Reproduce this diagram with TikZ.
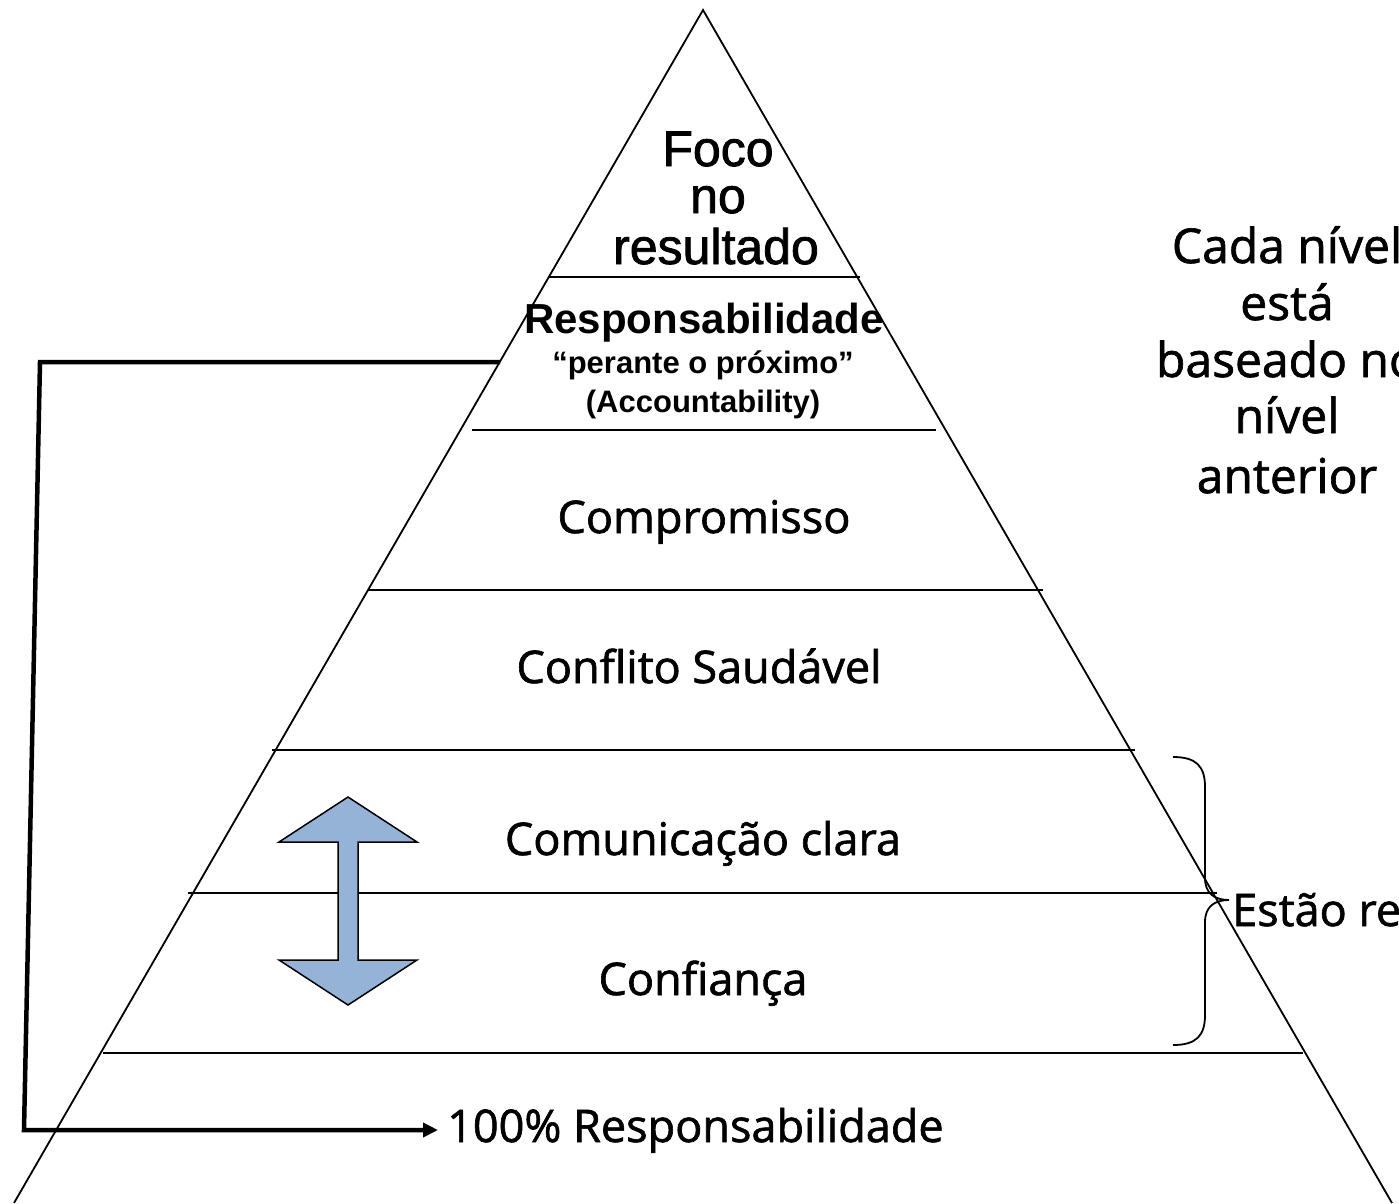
\documentclass[tikz,border=0pt]{standalone}
\usepackage{fontspec}
\usetikzlibrary{arrows.meta}
\newfontfamily\arialf{Liberation Sans}
\newfontfamily\arialmed[FakeBold=1.6]{Liberation Sans}
\newfontfamily\sansf[FakeBold=1.4]{Open Sans}
\definecolor{arrowblue}{RGB}{149,179,215}
\begin{document}
\begin{tikzpicture}[x=1pt,y=-1pt,
  edge/.style={line width=1.8pt,black},
  lvl/.style={line width=1.8pt,black},
  link/.style={line width=4.5pt,black,line join=miter},
  lbl/.style={anchor=base,inner sep=0pt,font=\sansf\fontsize{45}{54}\selectfont},
  side/.style={anchor=base,inner sep=0pt,font=\sansf\fontsize{48}{57}\selectfont},
  toplbl/.style={anchor=base,inner sep=0pt,font=\arialmed\fontsize{50}{50}\selectfont},
  resp/.style={anchor=base,inner sep=0pt,font=\arialf\bfseries\fontsize{42}{42}\selectfont},
  respsub/.style={anchor=base,inner sep=0pt,font=\arialf\bfseries\fontsize{31}{31}\selectfont},
  dblarrow/.style={fill=arrowblue,draw=black,line width=1.5pt,line join=miter}]
\useasboundingbox (0,0) rectangle (1399,1203);
\fill[white] (0,0) rectangle (1399,1203);

% pyramid outline
\coordinate (apex) at (703,10);
\coordinate (bl) at (14,1203);
\coordinate (br) at (1392,1203);
\draw[edge] (bl) -- (apex) -- (br);

% level lines
\draw[lvl] (548,277) -- (860,277);
\draw[lvl] (472,430) -- (936,430);
\draw[lvl] (368,590) -- (1043,590);
\draw[lvl] (272,750) -- (1135,750);
\draw[lvl] (188,893) -- (1217,893);
\draw[lvl] (103,1053) -- (1303,1053);

% labels in the pyramid
\node[toplbl] (foco1) at (718,166) {Foco};
\node[toplbl] (foco2) at (718,213) {no};
\node[toplbl] (foco3) at (716,264) {resultado};
\node[resp] (resp1) at (704,333) {Responsabilidade};
\node[respsub] (resp2) at (703,373) {“perante o próximo”};
\node[respsub] (resp3) at (703,412) {(Accountability)};
\node[lbl] (comp) at (704,533) {Compromisso};
\node[lbl] (confl) at (699,683) {Conflito Saudável};
\node[lbl] (comun) at (703,855) {Comunicação clara};
\node[lbl] (confi) at (703,995) {Confiança};
\node[lbl,anchor=base west] (hundred) at (447,1142) {100\% Responsabilidade};

% connector from the accountability level to the base
\coordinate (cstart) at (500,362);
\coordinate (ctl) at (40,362);
\coordinate (cbl) at (24,1130);
\coordinate (cend) at (438,1130);
\draw[link,-{Triangle[length=15pt,width=14pt]}] (cstart) -- (ctl) -- (cbl) -- (cend);

% double arrow
\draw[dblarrow] (348,797) -- (417,842) -- (358,842) -- (358,960) -- (417,960)
  -- (348,1005) -- (279,960) -- (338,960) -- (338,842) -- (279,842) -- cycle;

% brace
\coordinate (btop) at (1173,757);
\coordinate (bbot) at (1173,1045);
\coordinate (btip) at (1229,900);
\draw[line width=1.8pt] (btop) .. controls (1196,757) and (1205,766) .. (1205,787)
  -- (1205,878) .. controls (1205,893) and (1214,900) .. (btip)
  .. controls (1214,900) and (1205,907) .. (1205,922)
  -- (1205,1015) .. controls (1205,1036) and (1196,1045) .. (bbot);

% side texts
\node[side] (cada1) at (1287,263) {Cada nível};
\node[side] (cada2) at (1287,320) {está};
\node[side] (cada3) at (1287,377) {baseado no};
\node[side] (cada4) at (1287,433) {nível};
\node[side] (cada5) at (1287,493) {anterior};
\node[lbl,anchor=base west] (estao) at (1232,926) {Estão re};
\end{tikzpicture}
\end{document}
